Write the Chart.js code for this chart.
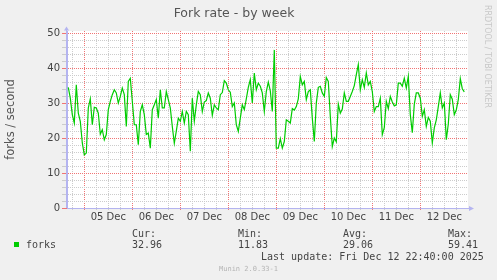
<!DOCTYPE html>
<html>
<head>
<meta charset="utf-8">
<script src="https://cdn.jsdelivr.net/npm/chart.js@4/dist/chart.umd.min.js"></script>
<style>
	html, body { margin: 0; padding: 0; background: #f0f0f0; }
	canvas { display: block; }
</style>
</head>
<body>
<canvas id="forkChart" width="497" height="280"></canvas>
<script>
// Hourly averages, first value at 04 Dec 16:00 (hour -8 relative to 05 Dec 00:00)
const startHour = -8;
const forks = [
	34.5, 31.4, 26.7, 24.3, 35.2, 27.1, 24.8, 18.6,
	15.2, 15.7, 28.6, 31.2, 23.8, 28.8, 28.6, 27.1, 21.1, 22.4, 19.5, 21.0,
	28.1, 30.5, 32.4, 33.8, 32.9, 30.0, 31.9, 34.3, 32.4, 23.3, 36.2, 37.1,
	30.5, 23.8, 23.8, 18.1, 27.6, 29.5, 26.7, 21.0, 21.4, 17.1, 28.1, 29.5,
	31.0, 25.7, 33.8, 28.6, 28.6, 33.3, 31.0, 28.6, 23.3, 18.5, 22.0, 25.7,
	24.8, 27.6, 24.3, 27.6, 26.7, 16.2, 31.4, 24.8, 29.5, 33.3, 32.4, 27.6,
	30.3, 30.7, 32.9, 31.4, 26.5, 29.5, 28.6, 28.1, 32.4, 33.0, 36.4, 35.7,
	33.8, 33.1, 29.0, 30.0, 23.8, 21.9, 25.7, 29.5, 28.1, 31.2, 34.5, 36.7,
	30.0, 38.6, 33.8, 35.7, 34.8, 32.9, 27.6, 33.3, 36.0, 33.5, 27.6, 45.2,
	17.1, 17.1, 19.8, 17.1, 19.0, 25.2, 24.8, 24.3, 28.4, 28.0, 29.0, 31.2,
	37.6, 35.2, 36.2, 31.0, 33.3, 33.8, 25.7, 19.0, 30.0, 34.5, 34.8, 32.9,
	31.9, 37.3, 36.2, 26.2, 17.6, 20.0, 18.9, 29.7, 27.1, 28.3, 32.9, 30.5,
	30.5, 31.9, 33.3, 35.0, 38.1, 41.0, 33.8, 36.7, 34.5, 38.6, 35.2, 36.2,
	33.3, 27.6, 29.0, 29.0, 31.4, 21.0, 23.0, 30.5, 28.4, 31.9, 30.3, 29.2,
	29.5, 35.7, 35.7, 34.8, 37.1, 34.3, 37.6, 26.7, 21.5, 29.7, 32.9, 32.9,
	31.4, 26.2, 28.1, 23.3, 25.9, 24.8, 18.6, 22.9, 25.2, 29.0, 32.9, 28.6,
	30.0, 19.5, 24.0, 32.4, 31.1, 26.7, 28.1, 31.0, 37.0, 34.1, 33.2,
];

const dayLabels = [ '05 Dec', '06 Dec', '07 Dec', '08 Dec', '09 Dec', '10 Dec', '11 Dec', '12 Dec' ];
const yTickLabels = [ 0, 10, 20, 30, 40, 50 ];

const seriesName = 'forks';
const statNames = [ 'Cur:', 'Min:', 'Avg:', 'Max:' ];
const statValues = [ '32.96', '11.83', '29.06', '59.41' ];
const lastUpdate = 'Last update: Fri Dec 12 22:40:00 2025';
const version = 'Munin 2.0.33-1';

const GREEN = '#00cc00';
const MAJOR = '#f07474';
const MINOR = '#cccccc';
const AXIS = '#b4b4f0';

// Munin-ish frame: grey canvas, white plot, axis arrows, legend text
const muninFrame = {
	id: 'muninFrame',
	beforeDraw( chart ) {
		const { ctx, chartArea: a } = chart;
		ctx.save();
		ctx.fillStyle = '#f0f0f0';
		ctx.fillRect( 0, 0, chart.width, chart.height );
		ctx.fillStyle = '#ffffff';
		ctx.fillRect( a.left, a.top, a.right - a.left, a.bottom - a.top );
		ctx.restore();
	},
	afterDraw( chart ) {
		const { ctx, chartArea: a } = chart;
		ctx.save();

		// axis arrows
		ctx.strokeStyle = AXIS;
		ctx.fillStyle = AXIS;
		ctx.lineWidth = 1;
		ctx.beginPath();
		ctx.moveTo( a.left - 0.5, a.bottom );
		ctx.lineTo( a.left - 0.5, a.top - 2 );
		ctx.moveTo( a.right, a.bottom + 0.5 );
		ctx.lineTo( a.right + 4, a.bottom + 0.5 );
		ctx.stroke();
		ctx.beginPath();
		ctx.moveTo( a.left - 0.5, a.top - 4.5 );
		ctx.lineTo( a.left - 3, a.top - 0.5 );
		ctx.lineTo( a.left + 2, a.top - 0.5 );
		ctx.fill();
		ctx.beginPath();
		ctx.moveTo( a.right + 6, a.bottom + 0.5 );
		ctx.lineTo( a.right + 1, a.bottom - 2 );
		ctx.lineTo( a.right + 1, a.bottom + 3 );
		ctx.fill();

		// watermark on the right
		ctx.save();
		ctx.translate( 485, 5 );
		ctx.rotate( Math.PI / 2 );
		ctx.fillStyle = '#c8c8c8';
		ctx.font = '8px "DejaVu Sans"';
		ctx.textBaseline = 'alphabetic';
		ctx.fillText( 'RRDTOOL / TOBI OETIKER', 0, 0 );
		ctx.restore();

		// legend
		ctx.font = '10px "DejaVu Sans Mono"';
		ctx.textBaseline = 'middle';
		ctx.fillStyle = GREEN;
		ctx.fillRect( 14, 242, 5, 5 );
		ctx.fillStyle = '#444';
		ctx.fillText( seriesName, 26, 245 );
		const statX = [ 132, 238, 343, 448 ];
		statNames.forEach( ( name, i ) => {
			ctx.fillText( name, statX[ i ], 234 );
			ctx.fillText( statValues[ i ], statX[ i ], 245 );
		} );
		ctx.fillText( lastUpdate, 261, 257.5 );

		ctx.font = '7px "DejaVu Sans Mono"';
		ctx.fillStyle = '#b4b4b4';
		ctx.fillText( version, 219, 269.5 );
		ctx.restore();
	},
};

const points = forks.map( ( v, i ) => ( { x: startHour + i, y: v } ) );

const isMultiple = ( v, n ) => Math.abs( Math.round( v ) % n ) === 0;

new Chart( document.getElementById( 'forkChart' ), {
	type: 'line',
	data: {
		datasets: [
			{
				label: seriesName,
				data: points,
				borderColor: GREEN,
				borderWidth: 1.2,
				pointRadius: 0,
				tension: 0,
				fill: false,
			},
		],
	},
	options: {
		responsive: false,
		animation: false,
		devicePixelRatio: 1,
		layout: { padding: { left: 0, right: 29, top: 0, bottom: 0 } },
		plugins: {
			legend: { display: false },
			tooltip: { enabled: false },
			title: {
				display: true,
				text: 'Fork rate - by week',
				color: '#555',
				font: { family: 'DejaVu Sans', size: 12.5, weight: 'normal' },
				padding: { top: 6, bottom: 10 },
			},
		},
		scales: {
			x: {
				type: 'linear',
				min: -8.65,
				max: 191.85,
				afterFit: ( scale ) => {
					scale.height = 72;
				},
				ticks: {
					stepSize: 6,
					autoSkip: false,
					maxRotation: 0,
					includeBounds: false,
					padding: 1,
					color: '#444',
					font: { family: 'DejaVu Sans', size: 10 },
					callback: ( v ) => {
						const r = Math.round( v );
						return r % 24 === 12 ? dayLabels[ ( r - 12 ) / 24 ] : '';
					},
				},
				grid: {
					drawTicks: true,
					tickLength: 2,
					lineWidth: 1,
					color: ( c ) =>
						c.tick && isMultiple( c.tick.value, 24 ) ? MAJOR : MINOR,
				},
				border: { display: true, color: AXIS, dash: [ 1, 1 ] },
			},
			y: {
				min: 0,
				max: 50.6,
				afterFit: ( scale ) => {
					scale.width = 67;
				},
				ticks: {
					stepSize: 2,
					autoSkip: false,
					includeBounds: false,
					padding: 2,
					color: '#444',
					font: { family: 'DejaVu Sans', size: 10 },
					callback: ( v ) =>
						yTickLabels.includes( Math.round( v ) ) ? Math.round( v ) : '',
				},
				grid: {
					drawTicks: true,
					tickLength: 5,
					lineWidth: 1,
					color: ( c ) =>
						c.tick && isMultiple( c.tick.value, 10 ) ? MAJOR : MINOR,
				},
				border: { display: true, color: AXIS, dash: [ 1, 1 ] },
				title: {
					display: true,
					text: 'forks / second',
					color: '#555',
					font: { family: 'DejaVu Sans', size: 11.5 },
					padding: { top: 4, bottom: 0 },
				},
			},
		},
	},
	plugins: [ muninFrame ],
} );
</script>
</body>
</html>
